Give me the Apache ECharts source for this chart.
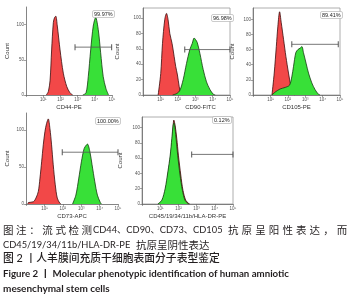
<!DOCTYPE html>
<html>
<head>
<meta charset="utf-8">
<script src="https://cdn.jsdelivr.net/npm/echarts@6/dist/echarts.min.js"></script>
<style>
  html, body { margin: 0; padding: 0; background: #fff; }
  #chart { width: 352px; height: 300px; }
</style>
</head>
<body>
<div id="chart"></div>
<script>
// x = log10 decade of fluorescence, y = cell count
var decadeLabels = ['', '10¹', '10²', '10³', '10⁴', '10⁵'];

var cd44Red = [[1.18,0],[1.30,5],[1.40,21],[1.49,64],[1.59,103],[1.66,110],[1.73,112],[1.82,98],[1.98,64],[2.17,31],[2.37,12],[2.56,3],[2.72,0]];
var cd44Green = [[3.30,0],[3.49,3],[3.62,26],[3.76,64],[3.91,98],[4.05,110],[4.20,93],[4.34,60],[4.49,26],[4.65,9],[4.80,0]];
var cd44Gate = [[2.85,68],[4.98,68]];

var cd90Red = [[0.87,0],[1.02,28],[1.12,67],[1.25,98],[1.35,106],[1.44,98],[1.54,80],[1.67,67],[1.79,50],[1.88,37],[1.98,26],[2.08,11],[2.17,2],[2.25,0]];
var cd90Green = [[1.70,0],[1.95,2],[2.12,6],[2.31,20],[2.50,41],[2.69,59],[2.83,67],[2.94,74],[3.02,72],[3.12,68],[3.27,54],[3.46,33],[3.65,17],[3.85,7],[4.04,1],[4.15,0]];
var cd90Gate = [[2.40,59],[5.00,59]];

var cd105Red = [[1.09,0],[1.22,29],[1.34,64],[1.43,91],[1.53,110],[1.62,96],[1.76,73],[1.89,51],[2.04,29],[2.18,11],[2.29,2],[2.38,0]];
var cd105Green = [[1.09,0],[1.28,4],[1.56,8],[1.85,10],[2.10,13],[2.23,24],[2.33,38],[2.46,56],[2.58,60],[2.71,62],[2.81,64],[2.90,56],[3.05,42],[3.19,29],[3.38,16],[3.57,7],[3.76,1],[3.85,0]];
var cd105Gate = [[2.23,67],[4.90,67]];

var cd73Red = [[0.10,0],[0.13,2],[0.40,3],[0.54,8],[0.67,17],[0.76,35],[0.85,57],[0.94,80],[1.03,98],[1.12,109],[1.21,115],[1.30,102],[1.39,80],[1.48,53],[1.59,26],[1.70,8],[1.84,1],[1.90,0]];
var cd73Green = [[2.53,0],[2.71,12],[2.87,35],[3.01,57],[3.16,75],[3.29,80],[3.34,81],[3.47,71],[3.59,53],[3.74,30],[3.88,12],[4.04,2],[4.10,0]];
var cd73Gate = [[1.97,70],[5.00,70]];

var cd45Red = [[0.90,0],[1.13,5],[1.31,20],[1.45,42],[1.58,64],[1.67,86],[1.75,110],[1.82,103],[1.91,86],[2.00,64],[2.13,38],[2.25,18],[2.40,5],[2.55,1],[2.62,0]];
var cd45Green = [[0.87,0],[1.09,5],[1.27,20],[1.42,42],[1.55,64],[1.64,86],[1.71,103],[1.76,106],[1.85,91],[1.96,64],[2.09,38],[2.22,18],[2.36,5],[2.51,1],[2.58,0]];
var cd45Gate = [[2.73,65],[5.00,65]];

var panelNames = ['CD44-PE', 'CD90-FITC', 'CD105-PE', 'CD73-APC', 'CD45/19/34/11b/HLA-DR-PE'];
var panelPercents = ['99.97%', '96.98%', '89.41%', '100.00%', '0.12%'];
var panelYMax = [125, 113, 115, 123, 114];
var panelYStep = [50, 20, 20, 50, 20];

var chart = echarts.init(document.getElementById('chart'));

var panels = [
  { left: 26, top: 7, width: 86, height: 88, box: false, yGap: 16, xGap: 9, xPad: 0, red: cd44Red, green: cd44Green, gate: cd44Gate, tag: [92, 10] },
  { left: 143, top: 8, width: 87, height: 87, box: true, yGap: 23, xGap: 9, xPad: 28, red: cd90Red, green: cd90Green, gate: cd90Gate, tag: [211, 14] },
  { left: 253, top: 8, width: 87, height: 87, box: true, yGap: 18, xGap: 9, xPad: 0, red: cd105Red, green: cd105Green, gate: cd105Gate, tag: [320, 11] },
  { left: 26, top: 113, width: 92, height: 91, box: false, yGap: 16, xGap: 9, xPad: 0, red: cd73Red, green: cd73Green, gate: cd73Gate, tag: [95, 117] },
  { left: 142, top: 117, width: 91, height: 87, box: true, yGap: 19, xGap: 9, xPad: 0, red: cd45Red, green: cd45Green, gate: cd45Gate, tag: [212, 116] }
];

var grids = [], xAxes = [], yAxes = [], series = [], titles = [];
var axisColor = '#666';

panels.forEach(function (p, i) {
  grids.push({
    left: p.left, top: p.top, width: p.width, height: p.height,
    show: p.box, borderColor: '#999', borderWidth: 0.8
  });
  xAxes.push({
    type: 'value', gridIndex: i, min: 0, max: 5, interval: 1,
    name: panelNames[i], nameLocation: 'middle', nameGap: p.xGap,
    nameTextStyle: { fontSize: 6, color: '#333', fontFamily: 'Liberation Sans', padding: [0, 0, 0, p.xPad] },
    axisLine: { show: true, onZero: false, lineStyle: { color: axisColor, width: 0.8 } },
    axisTick: { show: true, length: 2, lineStyle: { color: axisColor, width: 0.6 } },
    axisLabel: { fontSize: 4.5, color: '#555', margin: 2, formatter: function (v) { return decadeLabels[v] || ''; } },
    splitLine: { show: false }
  });
  yAxes.push({
    type: 'value', gridIndex: i, min: 0, max: panelYMax[i], interval: panelYStep[i],
    name: 'Count', nameLocation: 'middle', nameGap: p.yGap, nameRotate: 90,
    nameTextStyle: { fontSize: 6, color: '#333', fontFamily: 'Liberation Sans' },
    axisLine: { show: true, lineStyle: { color: axisColor, width: 0.8 } },
    axisTick: { show: true, length: 2, lineStyle: { color: axisColor, width: 0.6 } },
    axisLabel: { fontSize: 4.5, color: '#555', margin: 2, showMaxLabel: false },
    splitLine: { show: false }
  });
  series.push({
    type: 'line', xAxisIndex: i, yAxisIndex: i, data: p.red, smooth: 0.3,
    symbol: 'none', lineStyle: { color: '#3a0c0c', width: 0.8 },
    areaStyle: { color: '#f24848', opacity: 1 }, z: 2
  });
  series.push({
    type: 'line', xAxisIndex: i, yAxisIndex: i, data: p.green, smooth: 0.3,
    symbol: 'none', lineStyle: { color: '#143a10', width: 0.8 },
    areaStyle: { color: '#38e038', opacity: 1 }, z: 3
  });
  series.push({
    type: 'line', xAxisIndex: i, yAxisIndex: i, data: p.gate,
    symbol: 'rect', symbolSize: [1, 6], itemStyle: { color: '#555' },
    lineStyle: { color: '#555', width: 0.8 }, z: 4, silent: true
  });
  titles.push({
    text: panelPercents[i], left: p.tag[0], top: p.tag[1],
    padding: [1, 2], borderColor: '#aaa', borderWidth: 0.6, borderRadius: 1.5,
    backgroundColor: '#fff',
    textStyle: { fontSize: 5.5, color: '#222', fontWeight: 'normal', fontFamily: 'Liberation Sans' }
  });
});

// caption
var cjk = "'Noto Sans CJK SC'";
var capColor = '#231f20';
function spaced(str, x0, pitch, y, font) {
  return str.split('').map(function (ch, k) {
    return { type: 'text', x: x0 + k * pitch, y: y, style: { text: ch, font: font, fill: capColor, verticalAlign: 'middle' } };
  });
}
function txt(str, x, y, font) {
  return { type: 'text', x: x, y: y, style: { text: str, font: font, fill: capColor, verticalAlign: 'middle' } };
}
var capFont = '10.5px ' + cjk;
var latFont = '9.3px Lato, ' + cjk;
var graphic = []
  .concat(spaced('图注：流式检测', 3, 13.1, 230, capFont))
  .concat([txt('CD44、CD90、CD73、CD105', 93, 230, latFont)])
  .concat(spaced('抗原呈阳性表达，而', 228, 13.6, 230, capFont))
  .concat([
    txt('CD45/19/34/11b/HLA-DR-PE', 3, 245, latFont),
    txt('抗原呈阴性表达', 136, 245, capFont),
    txt('图 2 丨人羊膜间充质干细胞表面分子表型鉴定', 3, 259, '500 10.8px Lato, ' + cjk),
    txt('Figure 2 丨 Molecular phenotypic identification of human amniotic', 3, 274, 'bold 9.7px Lato, ' + cjk),
    txt('mesenchymal stem cells', 3, 289, 'bold 10px Lato, ' + cjk)
  ]);

chart.setOption({
  animation: false,
  backgroundColor: '#fff',
  title: titles,
  grid: grids,
  xAxis: xAxes,
  yAxis: yAxes,
  series: series,
  graphic: graphic
});
</script>
</body>
</html>
